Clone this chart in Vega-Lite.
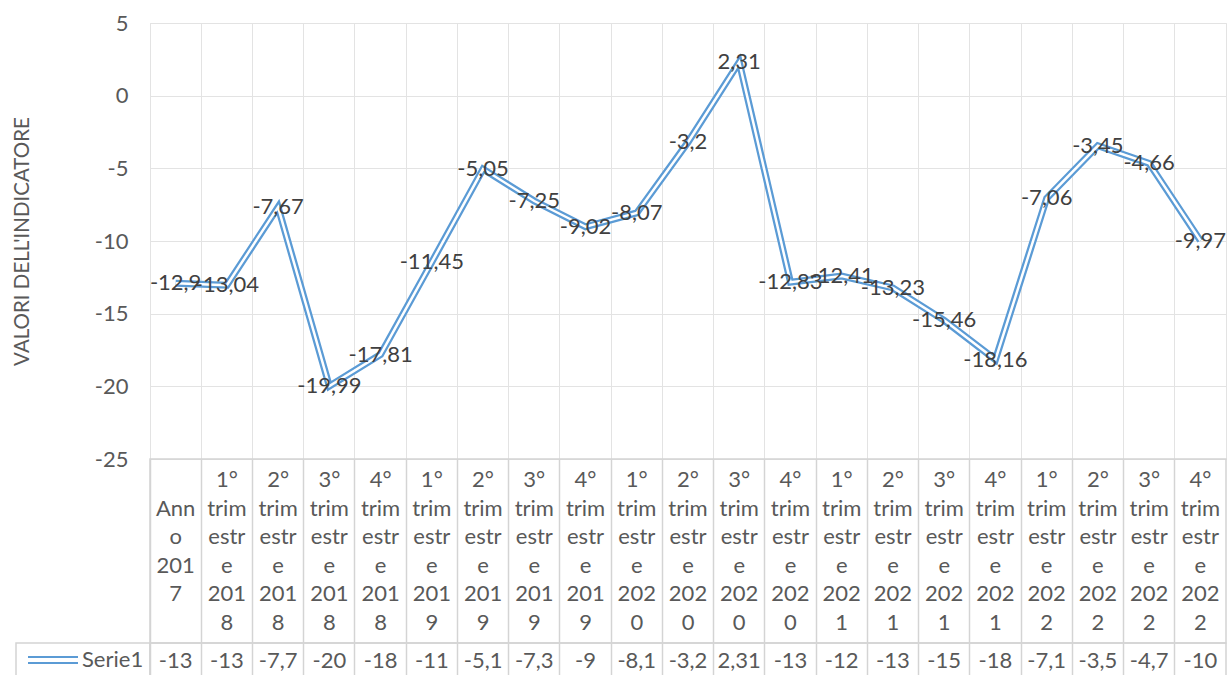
{
  "$schema": "https://vega.github.io/schema/vega-lite/v6.json",
  "padding": {"left": 11, "top": 11, "right": 3, "bottom": 0},
  "background": "white",
  "bounds": "flush",
  "config": {
    "font": "Lato",
    "locale": {"number": {"decimal": ",", "thousands": ".", "grouping": [3], "currency": ["", " €"], "minus": "-"}},
    "view": {"stroke": null},
    "concat": {"spacing": 0}
  },
  "data": {"values": [
    {"n": 0, "periodo": "Anno 2017", "etichetta": "\nAnn\no\n201\n7", "valore": -12.9, "tabella": "-13", "serie": "Serie1"},
    {"n": 1, "periodo": "1° trimestre 2018", "etichetta": "1°\ntrim\nestr\ne\n201\n8", "valore": -13.04, "tabella": "-13", "serie": "Serie1"},
    {"n": 2, "periodo": "2° trimestre 2018", "etichetta": "2°\ntrim\nestr\ne\n201\n8", "valore": -7.67, "tabella": "-7,7", "serie": "Serie1"},
    {"n": 3, "periodo": "3° trimestre 2018", "etichetta": "3°\ntrim\nestr\ne\n201\n8", "valore": -19.99, "tabella": "-20", "serie": "Serie1"},
    {"n": 4, "periodo": "4° trimestre 2018", "etichetta": "4°\ntrim\nestr\ne\n201\n8", "valore": -17.81, "tabella": "-18", "serie": "Serie1"},
    {"n": 5, "periodo": "1° trimestre 2019", "etichetta": "1°\ntrim\nestr\ne\n201\n9", "valore": -11.45, "tabella": "-11", "serie": "Serie1"},
    {"n": 6, "periodo": "2° trimestre 2019", "etichetta": "2°\ntrim\nestr\ne\n201\n9", "valore": -5.05, "tabella": "-5,1", "serie": "Serie1"},
    {"n": 7, "periodo": "3° trimestre 2019", "etichetta": "3°\ntrim\nestr\ne\n201\n9", "valore": -7.25, "tabella": "-7,3", "serie": "Serie1"},
    {"n": 8, "periodo": "4° trimestre 2019", "etichetta": "4°\ntrim\nestr\ne\n201\n9", "valore": -9.02, "tabella": "-9", "serie": "Serie1"},
    {"n": 9, "periodo": "1° trimestre 2020", "etichetta": "1°\ntrim\nestr\ne\n202\n0", "valore": -8.07, "tabella": "-8,1", "serie": "Serie1"},
    {"n": 10, "periodo": "2° trimestre 2020", "etichetta": "2°\ntrim\nestr\ne\n202\n0", "valore": -3.2, "tabella": "-3,2", "serie": "Serie1"},
    {"n": 11, "periodo": "3° trimestre 2020", "etichetta": "3°\ntrim\nestr\ne\n202\n0", "valore": 2.31, "tabella": "2,31", "serie": "Serie1"},
    {"n": 12, "periodo": "4° trimestre 2020", "etichetta": "4°\ntrim\nestr\ne\n202\n0", "valore": -12.83, "tabella": "-13", "serie": "Serie1"},
    {"n": 13, "periodo": "1° trimestre 2021", "etichetta": "1°\ntrim\nestr\ne\n202\n1", "valore": -12.41, "tabella": "-12", "serie": "Serie1"},
    {"n": 14, "periodo": "2° trimestre 2021", "etichetta": "2°\ntrim\nestr\ne\n202\n1", "valore": -13.23, "tabella": "-13", "serie": "Serie1"},
    {"n": 15, "periodo": "3° trimestre 2021", "etichetta": "3°\ntrim\nestr\ne\n202\n1", "valore": -15.46, "tabella": "-15", "serie": "Serie1"},
    {"n": 16, "periodo": "4° trimestre 2021", "etichetta": "4°\ntrim\nestr\ne\n202\n1", "valore": -18.16, "tabella": "-18", "serie": "Serie1"},
    {"n": 17, "periodo": "1° trimestre 2022", "etichetta": "1°\ntrim\nestr\ne\n202\n2", "valore": -7.06, "tabella": "-7,1", "serie": "Serie1"},
    {"n": 18, "periodo": "2° trimestre 2022", "etichetta": "2°\ntrim\nestr\ne\n202\n2", "valore": -3.45, "tabella": "-3,5", "serie": "Serie1"},
    {"n": 19, "periodo": "3° trimestre 2022", "etichetta": "3°\ntrim\nestr\ne\n202\n2", "valore": -4.66, "tabella": "-4,7", "serie": "Serie1"},
    {"n": 20, "periodo": "4° trimestre 2022", "etichetta": "4°\ntrim\nestr\ne\n202\n2", "valore": -9.97, "tabella": "-10", "serie": "Serie1"}
  ]},
  "spacing": 0,
  "resolve": {"scale": {"color": "independent"}, "legend": {"color": "independent"}},
  "vconcat": [
    {
      "width": 1076,
      "height": 436,
      "view": {"stroke": "#E3E3E3"},
      "encoding": {
        "x": {"field": "periodo", "type": "nominal", "sort": {"field": "n"},
              "scale": {"type": "band", "paddingInner": 0, "paddingOuter": 0},
              "axis": {"labels": false, "ticks": false, "domain": false, "title": null, "grid": true, "gridColor": "#E3E3E3", "bandPosition": 0}},
        "y": {"field": "valore", "type": "quantitative",
              "scale": {"domain": [-25, 5], "nice": false, "zero": false},
              "axis": {"values": [-25, -20, -15, -10, -5, 0, 5], "format": "d", "title": "VALORI DELL'INDICATORE",
                       "grid": true, "gridColor": "#E3E3E3", "domain": false, "ticks": false,
                       "labelFontSize": 22, "labelColor": "#595959", "labelPadding": 22,
                       "titleFontSize": 20.5, "titleFontWeight": "normal", "titleColor": "#595959", "titlePadding": 62}},
        "order": {"field": "n", "type": "quantitative"}
      },
      "layer": [
        {"mark": {"type": "line", "color": "#5B9BD5", "strokeWidth": 7}},
        {"mark": {"type": "line", "color": "white", "strokeWidth": 2.5}},
        {"mark": {"type": "text", "fontSize": 22, "color": "#404040", "baseline": "middle"},
         "encoding": {"text": {"field": "valore", "type": "quantitative", "format": ".4~g"}}}
      ]
    },
    {
      "width": 1076,
      "height": 184,
      "view": {"stroke": "#D4D4D4", "strokeWidth": 1.5},
      "mark": {"type": "text", "fontSize": 22, "color": "#595959", "baseline": "middle", "lineBreak": "\n", "lineHeight": 28.5, "dy": -71},
      "encoding": {
        "x": {"field": "periodo", "type": "nominal", "sort": {"field": "n"},
              "scale": {"type": "band", "paddingInner": 0, "paddingOuter": 0},
              "axis": {"labels": false, "ticks": false, "domain": false, "title": null, "grid": true, "gridColor": "#D4D4D4", "gridWidth": 1.5, "bandPosition": 0}},
        "text": {"field": "etichetta", "type": "nominal"}
      }
    },
    {
      "width": 1076,
      "height": 35,
      "view": {"stroke": "#D4D4D4", "strokeWidth": 1.5},
      "mark": {"type": "text", "fontSize": 22, "baseline": "middle"},
      "encoding": {
        "x": {"field": "periodo", "type": "nominal", "sort": {"field": "n"},
              "scale": {"type": "band", "paddingInner": 0, "paddingOuter": 0},
              "axis": {"labels": false, "ticks": false, "domain": false, "title": null, "grid": true, "gridColor": "#D4D4D4", "gridWidth": 1.5, "bandPosition": 0}},
        "text": {"field": "tabella", "type": "nominal"},
        "color": {"field": "serie", "type": "nominal", "scale": {"range": ["#595959"]},
                  "legend": {"orient": "left", "title": null, "offset": 0, "padding": 6,
                             "strokeColor": "#D4D4D4",
                             "symbolType": "M -1 -0.6 L 9 -0.6 M -1 0.6 L 9 0.6",
                             "symbolSize": 100, "symbolStrokeWidth": 2, "symbolStrokeColor": "#5B9BD5",
                             "labelFontSize": 22, "labelColor": "#595959", "labelOffset": 38,
                             "encode": {"legend": {"update": {"strokeWidth": {"value": 1.5}}},
                                        "symbols": {"update": {"stroke": {"value": "#5B9BD5"}, "strokeWidth": {"value": 2}, "fill": {"value": "transparent"}}}}}}
      }
    }
  ]
}
